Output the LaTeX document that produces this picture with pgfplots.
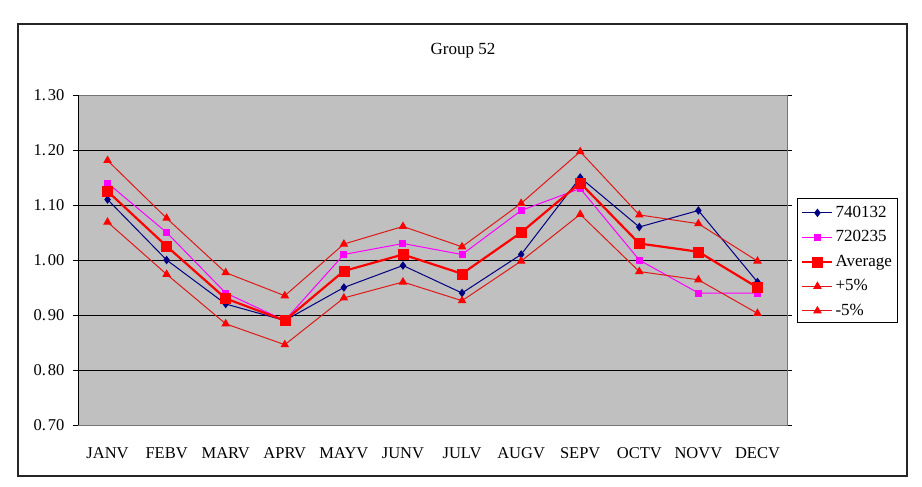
\documentclass[border=0pt]{standalone}
\usepackage{pgfplots}
\pgfplotsset{compat=1.18}
\usepackage{pgfplotstable}
\usepackage{fontspec}
\setmainfont{Liberation Serif}
\newcommand\cf{\fontsize{16.5bp}{18bp}\selectfont}
\newcommand\lf{\fontsize{17bp}{18bp}\selectfont}
\definecolor{plotbg}{HTML}{C0C0C0}
\definecolor{navyc}{HTML}{000080}
\definecolor{magc}{HTML}{FF00FF}
\definecolor{redc}{HTML}{FF0000}
\definecolor{bandc}{HTML}{E01818}
\pgfplotstableread{
x a b avg up dn
1 1.11 1.14 1.125 1.181 1.069
2 1.00 1.05 1.025 1.076 0.974
3 0.92 0.94 0.930 0.977 0.884
4 0.89 0.89 0.890 0.935 0.846
5 0.95 1.01 0.980 1.029 0.931
6 0.99 1.03 1.010 1.061 0.960
7 0.94 1.01 0.975 1.024 0.926
8 1.01 1.09 1.050 1.103 0.998
9 1.15 1.13 1.140 1.197 1.083
10 1.06 1.00 1.030 1.082 0.979
11 1.09 0.94 1.015 1.066 0.964
12 0.96 0.94 0.950 0.998 0.903
}\data
\begin{document}
\begin{tikzpicture}
\path[use as bounding box, fill=white] (0,0) rectangle (922bp,487bp);
\draw[line width=1.5bp, black!85] (18bp,11bp) rectangle (907bp,463bp);
\begin{axis}[
  at={(78bp,62bp)}, anchor=south west,
  width=709bp, height=330bp, scale only axis,
  xmin=0.5, xmax=12.5, ymin=0.7, ymax=1.3,
  axis background/.style={fill=plotbg},
  axis line style={draw=gray!90!black, line width=0.8bp},
  xtick={1,...,12},
  xticklabels={JANV,FEBV,MARV,APRV,MAYV,JUNV,JULV,AUGV,SEPV,OCTV,NOVV,DECV},
  minor xtick={0.5,1.5,...,12.5},
  xtick style={draw=none},
  minor tick style={black, line width=0.8bp},
  minor tick length=13bp,
  ytick={0.7,0.8,...,1.31},
  yticklabels={0.\kern2bp 70,0.\kern2bp 80,0.\kern2bp 90,1.\kern2bp 00,1.\kern2bp 10,1.\kern2bp 20,1.\kern2bp 30},
  major tick length=10bp,
  ytick style={black, line width=0.8bp},
  tick align=center,
  ymajorgrids, grid style={black, line width=0.8bp},
  ticklabel style={font=\cf},
  yticklabel style={xshift=-5bp},
  xticklabel style={yshift=-14bp},
  every axis title shift=0pt,
  title={Group 52},
  title style={font=\lf, at={(0.543,1.133)}, anchor=center},
  legend style={at={(1.014,0.688)}, anchor=north west, draw=black, line width=0.8bp,
    font=\lf, fill=white, inner xsep=4bp, inner ysep=3bp, row sep=4.5bp,
    nodes={inner ysep=0bp, inner xsep=2bp, text height=16bp, text depth=4bp}},
  legend cell align=left,
  legend image code/.code={\draw[mark repeat=2,mark phase=2,#1] plot coordinates {(0bp,-1.5bp) (15bp,-1.5bp) (30bp,-1.5bp)};},
]
\draw[black, line width=0.8bp] (rel axis cs:0,0) -- (rel axis cs:0,1);
\draw[black, line width=0.8bp] (rel axis cs:0,0) -- (rel axis cs:1,0);
\addplot[navyc, line width=1bp, mark=diamond*, mark size=3.5bp, mark options={fill=navyc}] table[x=x,y=a] {\data};
\addlegendentry{740132}
\addplot[magc, line width=1bp, mark=square*, mark size=3bp, mark options={fill=magc}] table[x=x,y=b] {\data};
\addlegendentry{720235}
\addplot[redc, line width=2.2bp, mark=square*, mark size=5bp, mark options={fill=redc, line width=0.5bp}] table[x=x,y=avg] {\data};
\addlegendentry{Average}
\addplot[bandc, line width=1bp, mark=triangle*, mark size=4bp, mark options={fill=redc, draw=redc}] table[x=x,y=up] {\data};
\addlegendentry{+5\%}
\addplot[bandc, line width=1bp, mark=triangle*, mark size=4bp, mark options={fill=redc, draw=redc}] table[x=x,y=dn] {\data};
\addlegendentry{-5\%}
\end{axis}
\end{tikzpicture}
\end{document}
